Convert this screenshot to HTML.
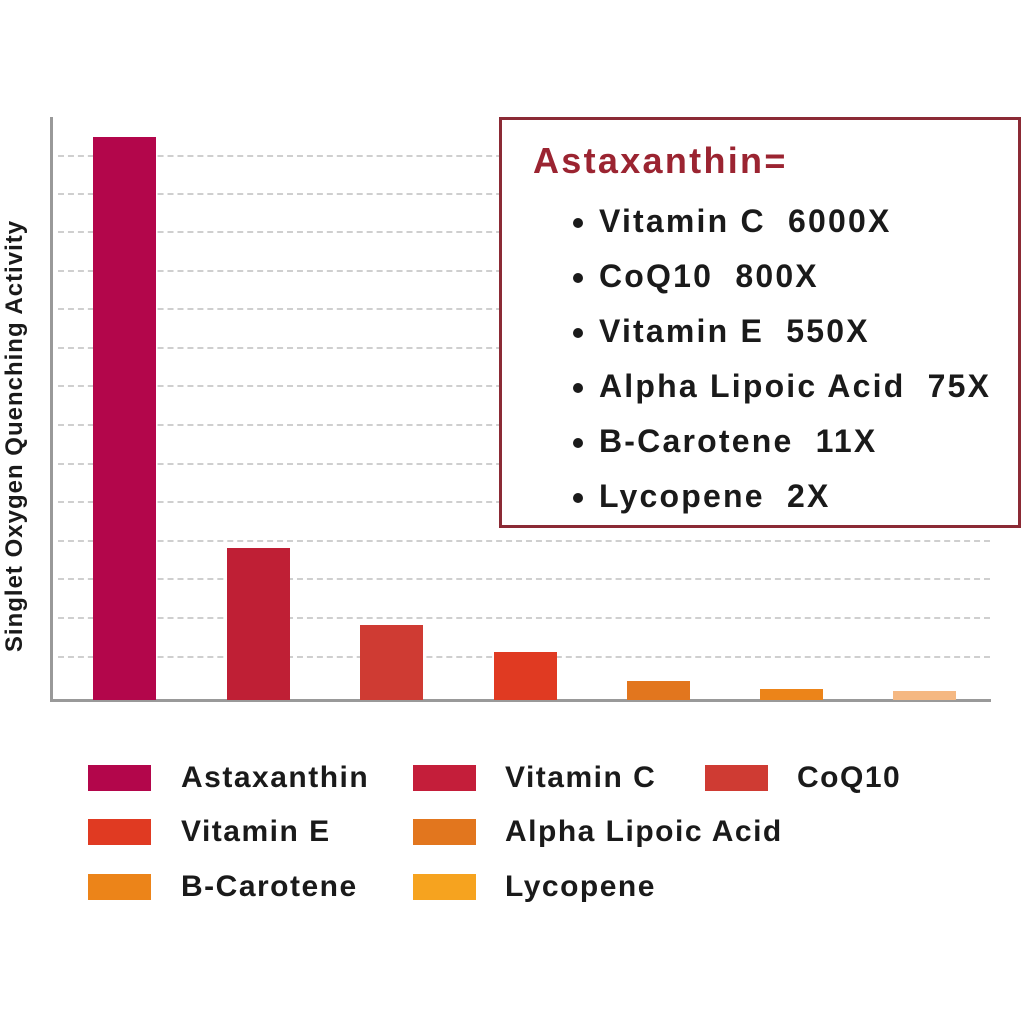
<!DOCTYPE html>
<html><head><style>
body{margin:0;width:1024px;height:1024px;background:#fff;position:relative;overflow:hidden;font-family:"Liberation Sans",sans-serif;font-weight:bold;color:#1a1a1a}
.a{position:absolute}
.g{position:absolute;left:58px;width:932px;border-top:2px dashed #cfcfcf}
.b{position:absolute;width:63px}
.sw{position:absolute;width:63px;height:26px}
.lt{position:absolute;font-size:30px;line-height:30px;letter-spacing:1.5px}
.bx li{margin:0;height:55px;line-height:55px}
</style></head><body>
<div class="g" style="top:155px"></div><div class="g" style="top:193px"></div><div class="g" style="top:231px"></div><div class="g" style="top:270px"></div><div class="g" style="top:308px"></div><div class="g" style="top:347px"></div><div class="g" style="top:385px"></div><div class="g" style="top:424px"></div><div class="g" style="top:463px"></div><div class="g" style="top:501px"></div><div class="g" style="top:540px"></div><div class="g" style="top:578px"></div><div class="g" style="top:617px"></div><div class="g" style="top:656px"></div>
<div class="a" style="left:50px;top:117px;width:3px;height:585px;background:#999"></div>
<div class="a" style="left:50px;top:699px;width:941px;height:3px;background:#999"></div>
<div class="b" style="left:93px;top:137px;height:563px;background:#b3064b"></div>
<div class="b" style="left:227px;top:548px;height:152px;background:#bf1f35"></div>
<div class="b" style="left:360px;top:625px;height:75px;background:#cf3b33"></div>
<div class="b" style="left:494px;top:652px;height:48px;background:#e03a22"></div>
<div class="b" style="left:627px;top:681px;height:19px;background:#e2761e"></div>
<div class="b" style="left:760px;top:689px;height:11px;background:#ec8419"></div>
<div class="b" style="left:893px;top:691px;height:9px;background:#f5b882"></div>
<div class="a" style="left:-235px;top:423px;width:500px;text-align:center;transform:rotate(-90deg);font-size:24px;line-height:26px;letter-spacing:1px">Singlet Oxygen Quenching Activity</div>
<div class="a bx" style="left:499px;top:117px;width:516px;height:405px;border:3px solid #8b2a35;background:#fff">
<div class="a" style="left:31px;top:20px;font-size:36px;color:#9b2431;letter-spacing:2.3px">Astaxanthin=</div>
<ul style="position:absolute;left:62px;top:74px;margin:0;padding:0 0 0 35px;font-size:32px;list-style:disc;letter-spacing:2.2px;white-space:nowrap">
<li>Vitamin C&nbsp; 6000X</li><li>CoQ10&nbsp; 800X</li><li>Vitamin E&nbsp; 550X</li><li>Alpha Lipoic Acid&nbsp; 75X</li><li>B-Carotene&nbsp; 11X</li><li>Lycopene&nbsp; 2X</li></ul>
</div>
<div class="sw" style="left:88px;top:765px;background:#b3064b"></div><div class="lt" style="left:181px;top:763px">Astaxanthin</div>
<div class="sw" style="left:413px;top:765px;background:#c41e3a"></div><div class="lt" style="left:505px;top:763px">Vitamin C</div>
<div class="sw" style="left:705px;top:765px;background:#cf3b33"></div><div class="lt" style="left:797px;top:763px">CoQ10</div>
<div class="sw" style="left:88px;top:819px;background:#e03a22"></div><div class="lt" style="left:181px;top:817px">Vitamin E</div>
<div class="sw" style="left:413px;top:819px;background:#e2761e"></div><div class="lt" style="left:505px;top:817px">Alpha Lipoic Acid</div>
<div class="sw" style="left:88px;top:874px;background:#ec8419"></div><div class="lt" style="left:181px;top:872px">B-Carotene</div>
<div class="sw" style="left:413px;top:874px;background:#f6a31f"></div><div class="lt" style="left:505px;top:872px">Lycopene</div>
</body></html>
